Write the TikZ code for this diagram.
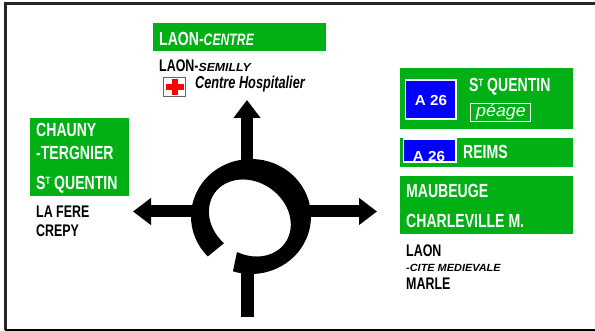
\documentclass[tikz,border=0pt]{standalone}
\usepackage{fontspec}
\usepackage{xcolor}
\usetikzlibrary{calc,arrows.meta}
\newfontfamily\signfont[FakeStretch=0.74]{Liberation Sans}
\newfontfamily\wideit[FakeStretch=1.05]{Liberation Sans}
\newcommand{\bigsign}{\signfont\bfseries\fontsize{19}{20}\selectfont}
\newcommand{\midsign}{\signfont\bfseries\fontsize{16.8}{18}\selectfont}
\newcommand{\suptee}{\raisebox{5pt}{\fontsize{10.5}{10}\selectfont T}}
\definecolor{signgreen}{RGB}{0,176,20}
\definecolor{signblue}{RGB}{0,0,255}
\begin{document}
\begin{tikzpicture}[x=1pt, y=1pt,
		greentext/.style={anchor=base west, inner sep=0pt, text=white, font=\bigsign},
		blacktext/.style={anchor=base west, inner sep=0pt, text=black, font=\midsign},
		motorway/.style={fill=signblue, draw=white, line width=1.2pt},
		roadnumber/.style={anchor=base, inner sep=0pt, text=white, font=\wideit\bfseries\fontsize{14.5}{16}\selectfont},
		roadarrow/.style={line width=12pt, -{Triangle[length=18pt, width=26pt]}}]
	\useasboundingbox (0,0) rectangle (595,331);
	% frame
	\draw[line width=2.4pt, black!85] (595,327.5) -- (5.3,327.5) -- (5.3,1);
	\draw[line width=2.4pt] (5.3,1) -- (595,1);
	% signs
	\fill[signgreen] (153,280) rectangle (326,308);
	\fill[signgreen] (400,202) rectangle (573,263);
	\fill[signgreen] (400,164) rectangle (573,193);
	\fill[signgreen] (400,97) rectangle (573,155);
	\fill[signgreen] (30,135) rectangle (129,213);
	\draw[motorway] (405.7,212) rectangle (456,251);
	\draw[motorway] (403.5,169) rectangle (456,192);
	\draw[white, line width=0.6pt] (470.5,210) rectangle (530.5,228);
	% roundabout
	\coordinate (ring) at (251,114.5);
	\coordinate (north) at (247,231);
	\coordinate (west) at (133,119.5);
	\coordinate (east) at (377,119.5);
	\coordinate (south) at (247.5,14);
	\fill (ring) ++(224:60 and 57.5) arc[start angle=224, end angle=-107.5, x radius=60, y radius=57.5]
		-- ($(ring)+(-14,-35.5)$) {[rotate=-35] arc[start angle=-78, end angle=261, x radius=43.2, y radius=36]} -- cycle;
	\draw[roadarrow] (247,166) -- (north);
	\draw[roadarrow] (196,119.5) -- (west);
	\draw[roadarrow] (306,119.5) -- (east);
	\draw[line width=13pt] (247.5,66) -- (south);
	% top
	\node[greentext] (centre) at (159,285) {LAON-{\itshape\fontsize{16.5}{18}\selectfont CENTRE}};
	\node[blacktext] (semilly) at (159,259.5) {LAON-{\wideit\bfseries\itshape\fontsize{11.7}{13}\selectfont SEMILLY}};
	\node[draw=black!60, fill=white, line width=1pt, minimum width=22pt, minimum height=19pt, inner sep=0pt] (hopital) at (174.5,244) {};
	\fill[red] (171.7,236) rectangle (178,252);
	\fill[red] (166,241) rectangle (184,247);
	\node[blacktext, font=\signfont\bfseries\itshape\fontsize{17.2}{18}\selectfont] (chu) at (195,242) {Centre Hospitalier};
	% right
	\node[greentext] (quentinr) at (469,239) {S\suptee\ QUENTIN};
	\node[anchor=base, inner sep=0pt, text=white, font=\wideit\itshape\fontsize{17}{18}\selectfont] (peage) at (501,214.5) {péage};
	\node[roadnumber] (aone) at (431,225) {A 26};
	\node[roadnumber] (atwo) at (429,169.5) {A 26};
	\node[greentext] (reims) at (463,172) {REIMS};
	\node[greentext] (maubeuge) at (406,133) {MAUBEUGE};
	\node[greentext] (charleville) at (406,103) {CHARLEVILLE M.};
	\node[blacktext] (laon) at (406,74) {LAON};
	\node[blacktext, font=\wideit\bfseries\itshape\fontsize{10.4}{12}\selectfont] (cite) at (406,59) {-CITE MEDIEVALE};
	\node[blacktext] (marle) at (406,41) {MARLE};
	% left
	\node[greentext] (chauny) at (36,194) {CHAUNY};
	\node[greentext] (tergnier) at (36,171) {-TERGNIER};
	\node[greentext] (quentinl) at (36,141) {S\suptee\ QUENTIN};
	\node[blacktext] (lafere) at (36,113) {LA FERE};
	\node[blacktext] (crepy) at (36,94) {CREPY};
\end{tikzpicture}
\end{document}
